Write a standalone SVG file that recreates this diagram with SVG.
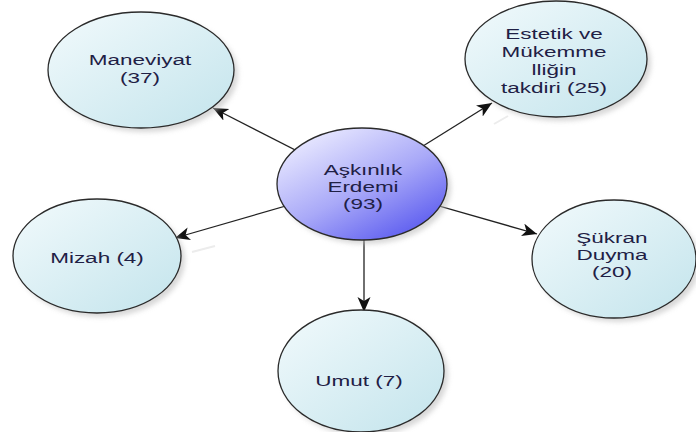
<svg xmlns="http://www.w3.org/2000/svg" width="696" height="432" viewBox="0 0 696 432">
<defs>
<linearGradient id="cyan" x1="0" y1="0" x2="1" y2="1">
<stop offset="0" stop-color="#f2fafc"/>
<stop offset="1" stop-color="#c3e4ec"/>
</linearGradient>
<linearGradient id="blue" x1="0.15" y1="0.05" x2="0.9" y2="1">
<stop offset="0" stop-color="#ebebff"/>
<stop offset="0.5" stop-color="#a9a9f8"/>
<stop offset="1" stop-color="#4f4fee"/>
</linearGradient>
<filter id="sh" x="-20%" y="-20%" width="140%" height="140%">
<feGaussianBlur stdDeviation="2.5"/>
</filter>
<marker id="arr" markerUnits="userSpaceOnUse" markerWidth="16" markerHeight="14" refX="15" refY="6.5" orient="auto">
<path d="M0,0 L15,6.5 L0,13 L4,6.5 Z" fill="#111"/>
</marker>
</defs>
<style>
.node{fill:url(#cyan);stroke:#2a2a2a;stroke-width:1.3}
.core{fill:url(#blue);stroke:#2a2a2a;stroke-width:1.3}
.shadow{fill:#b8b8b8;opacity:0.55;filter:url(#sh)}
.lbl{font-family:"Liberation Sans",Arial,sans-serif;font-size:15px;fill:#1f2045;text-anchor:middle}
.edge{stroke:#222;stroke-width:1.3;fill:none;marker-end:url(#arr)}
.eshadow{stroke:#ececec;stroke-width:2;fill:none}
</style>
<rect width="696" height="432" fill="#ffffff"/>
<g id="connectors">
<line class="eshadow" x1="494" y1="124" x2="508" y2="116"/>
<line class="eshadow" x1="215" y1="246" x2="192" y2="252"/>
<line class="edge" x1="362" y1="184" x2="213" y2="108"/>
<line class="edge" x1="362" y1="184" x2="492" y2="103"/>
<line class="edge" x1="362" y1="184" x2="175" y2="238"/>
<line class="edge" x1="362" y1="184" x2="537" y2="234"/>
<line class="edge" x1="364" y1="184" x2="364" y2="312"/>
</g>
<g id="n-center">
<ellipse class="shadow" cx="366" cy="188" rx="85" ry="56"/>
<ellipse class="core" cx="362" cy="184" rx="85" ry="56"/>
<g transform="translate(363 0) scale(1.5 1)">
<text class="lbl" x="0" y="175">Aşkınlık</text>
<text class="lbl" x="0" y="192">Erdemi</text>
<text class="lbl" x="0" y="209">(93)</text>
</g>
</g>
<g id="n-maneviyat">
<ellipse class="shadow" cx="145" cy="74" rx="93" ry="58"/>
<ellipse class="node" cx="141" cy="70" rx="93" ry="58"/>
<g transform="translate(140 0) scale(1.5 1)">
<text class="lbl" x="0" y="65">Maneviyat</text>
<text class="lbl" x="0" y="83">(37)</text>
</g>
</g>
<g id="n-estetik">
<ellipse class="shadow" cx="560" cy="63" rx="91" ry="58"/>
<ellipse class="node" cx="556" cy="59" rx="91" ry="58"/>
<g transform="translate(554 0) scale(1.5 1)">
<text class="lbl" x="0" y="39">Estetik ve</text>
<text class="lbl" x="0" y="57">Mükemme</text>
<text class="lbl" x="0" y="75">lliğin</text>
<text class="lbl" x="0" y="93">takdiri (25)</text>
</g>
</g>
<g id="n-mizah">
<ellipse class="shadow" cx="101" cy="260" rx="84" ry="57"/>
<ellipse class="node" cx="97" cy="256" rx="84" ry="57"/>
<g transform="translate(97 0) scale(1.5 1)">
<text class="lbl" x="0" y="263">Mizah (4)</text>
</g>
</g>
<g id="n-sukran">
<ellipse class="shadow" cx="618" cy="263" rx="82" ry="59"/>
<ellipse class="node" cx="614" cy="259" rx="82" ry="59"/>
<g transform="translate(612 0) scale(1.5 1)">
<text class="lbl" x="0" y="243">Şükran</text>
<text class="lbl" x="0" y="260">Duyma</text>
<text class="lbl" x="0" y="277">(20)</text>
</g>
</g>
<g id="n-umut">
<ellipse class="shadow" cx="365" cy="375" rx="83" ry="61"/>
<ellipse class="node" cx="361" cy="371" rx="83" ry="61"/>
<g transform="translate(359 0) scale(1.5 1)">
<text class="lbl" x="0" y="386">Umut (7)</text>
</g>
</g>
</svg>
